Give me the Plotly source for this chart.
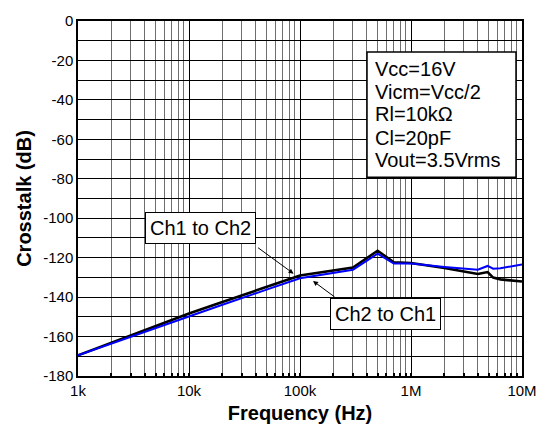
import plotly.graph_objects as go

freq = [1e3, 2e3, 5e3, 1e4, 2e4, 5e4, 1e5, 3e5, 5e5, 7e5, 1e6, 2e6, 3e6, 4e6, 4.9e6, 5.5e6, 6.4e6, 8e6, 1e7]
ch1_to_ch2 = [-169.5, -163.1, -154.7, -148.3, -142.5, -134.8, -129.0, -125.0, -116.5, -122.3, -122.7,
              -125.2, -126.9, -128.3, -127.3, -130.1, -131.0, -131.5, -132.1]
ch2_to_ch1 = [-169.5, -163.5, -155.7, -149.7, -143.9, -136.2, -130.4, -126.1, -118.0, -123.0, -123.0,
              -124.7, -125.7, -126.1, -124.2, -125.6, -125.4, -124.4, -123.4]

x_tickvals = [1e3, 1e4, 1e5, 1e6, 1e7]
x_ticktext = ["1k", "10k", "100k", "1M", "10M"]
y_tickvals = [0, -20, -40, -60, -80, -100, -120, -140, -160, -180]
y_ticktext = ["0", "-20", "-40", "-60", "-80", "-100", "-120", "-140", "-160", "-180"]
info_lines = ["Vcc=16V", "Vicm=Vcc/2", "Rl=10kΩ", "Cl=20pF", "Vout=3.5Vrms"]

FONT = "Liberation Sans, Arial, Helvetica, sans-serif"

# page body has an 8px default margin; figure sized so the plot area lands at
# window x 78..522, y 21..376
PL, PT, PW, PH = 78, 21, 444, 355

fig = go.Figure()
fig.add_trace(go.Scatter(x=freq, y=ch1_to_ch2, mode="lines", name="Ch1 to Ch2",
                         line=dict(color="black", width=2.6)))
fig.add_trace(go.Scatter(x=freq, y=ch2_to_ch1, mode="lines", name="Ch2 to Ch1",
                         line=dict(color="#0000ff", width=2)))

fig.update_layout(
    width=536, height=424,
    margin=dict(l=70, r=22, t=13, b=56),
    paper_bgcolor="white", plot_bgcolor="white",
    showlegend=False,
    font=dict(family=FONT, color="black"),
    xaxis=dict(
        type="log", range=[3, 7], automargin=False,
        tickvals=x_tickvals, ticktext=x_ticktext,
        tickfont=dict(size=15),
        showgrid=True, gridcolor="black", gridwidth=1,
        ticks="inside", ticklen=3, tickcolor="black", tickwidth=1.5,
        minor=dict(dtick="D1", showgrid=True, gridcolor="#6e6e6e", gridwidth=1,
                   ticks="inside", ticklen=3, tickcolor="black", tickwidth=1.5),
        showline=True, linecolor="black", linewidth=1.5, mirror=True,
        zeroline=False,
        title=dict(text="<b>Frequency (Hz)</b>", font=dict(size=20), standoff=8),
    ),
    yaxis=dict(
        range=[-180, 0], automargin=False,
        tickvals=y_tickvals, ticktext=y_ticktext,
        tickfont=dict(size=15),
        showgrid=True, gridcolor="black", gridwidth=1,
        minor=dict(dtick=10, showgrid=True, gridcolor="black", gridwidth=1),
        showline=True, linecolor="black", linewidth=1.5, mirror=True,
        ticks="", zeroline=False,
        title=dict(text="<b>Crosstalk (dB)</b>", font=dict(size=20), standoff=6),
    ),
)


def px(x):
    return (x - PL) / PW


def py(y):
    return 1 - (y - PT) / PH


# info box
fig.add_shape(type="rect", xref="paper", yref="paper",
              x0=px(367), x1=px(516), y0=py(177.3), y1=py(52),
              line=dict(color="black", width=1.5), fillcolor="white", layer="above")
line_px = [69, 91.7, 114.3, 137.7, 160.3]
for txt, yy in zip(info_lines, line_px):
    fig.add_annotation(text=txt, xref="paper", yref="paper",
                       x=px(373.3), y=py(yy), xanchor="left", yanchor="middle",
                       showarrow=False, font=dict(size=20, family=FONT, color="black"))

# label boxes
fig.add_annotation(text="Ch1 to Ch2", xref="paper", yref="paper",
                   x=px(200), y=py(227.8), xanchor="center", yanchor="middle",
                   showarrow=False, font=dict(size=20, family=FONT, color="black"),
                   bgcolor="white", bordercolor="black", borderwidth=1, borderpad=4)
fig.add_annotation(text="Ch2 to Ch1", xref="paper", yref="paper",
                   x=px(385.7), y=py(313.8), xanchor="center", yanchor="middle",
                   showarrow=False, font=dict(size=20, family=FONT, color="black"),
                   bgcolor="white", bordercolor="black", borderwidth=1, borderpad=4)

# arrows
fig.add_annotation(text="", x=4.942, y=-128.1, xref="x", yref="y",
                   ax=-37, ay=-27, showarrow=True, arrowhead=2, arrowsize=1,
                   arrowwidth=1, arrowcolor="black")
fig.add_annotation(text="", x=5.117, y=-131.8, xref="x", yref="y",
                   ax=23, ay=17, showarrow=True, arrowhead=2, arrowsize=1,
                   arrowwidth=1, arrowcolor="black")

fig.write_html("out.html")
